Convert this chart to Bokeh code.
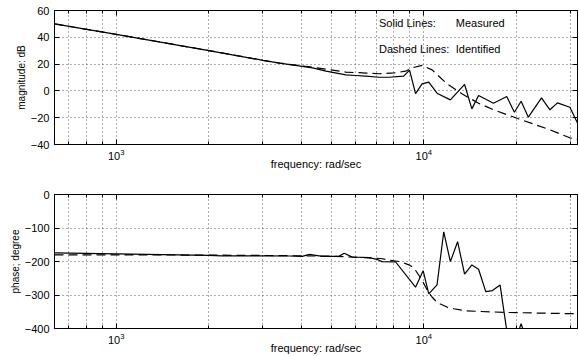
from bokeh.plotting import figure
from bokeh.layouts import column
from bokeh.models import (FixedTicker, LogTickFormatter, Label, Range1d, LinearAxis,
                          LogAxis, CustomJSTickFormatter)
from bokeh.embed import file_html
from bokeh.resources import INLINE

# ---------------- data ----------------
freq_mag_meas = [630, 1000, 2000, 3000, 3400, 4350, 4808, 5580, 6010, 6476, 7150,
                 7706, 8600, 8990, 9399, 9874, 10380, 11040, 12200, 13570, 14330,
                 15070, 16850, 18610, 19700, 20720, 21870, 24140, 25700, 27200,
                 29850, 31600]
mag_meas = [50.0, 42.2, 30.1, 22.8, 20.7, 17.2, 14.7, 12.0, 11.5, 11.0, 10.2,
            10.2, 11.0, 15.5, -2.0, 5.3, 6.5, -1.7, -6.7, 4.8, -13.4,
            -3.4, -9.2, -4.2, -15.9, -7.7, -19.6, -5.2, -14.1, -8.9,
            -12.2, -24.0]

freq_mag_ident = [630, 1000, 2000, 3000, 3400, 4350, 5580, 6500, 7150, 8000,
                  8726, 9166, 9874, 10640, 11900, 13300, 15070, 16850, 20300,
                  25700, 29850, 31600]
mag_ident = [50.0, 42.2, 30.1, 22.8, 20.7, 17.7, 14.0, 13.3, 12.8, 13.4,
             14.7, 17.2, 19.0, 15.7, 5.3, -2.2, -9.2, -14.1, -20.8,
             -29.0, -35.0, -36.3]

freq_ph_meas = [630, 1000, 2000, 2200, 3000, 3656, 4025, 4246, 4680, 5300, 5510,
                5850, 6640, 7040, 7310, 8100, 9399, 9950, 10380, 11040, 11610,
                12200, 12880, 13570, 14330, 15070, 15900, 16720, 17700, 18840,
                19700, 20720, 21870, 26000, 31600]
ph_meas = [-174, -177, -181.5, -183.5, -183.5, -183.6, -184.5, -178.6, -184.6,
           -184.6, -175.6, -186.6, -188.6, -193.5, -200.5, -201.5, -276.8,
           -227.4, -296.7, -270, -111.3, -200.5, -141, -238, -210.4, -223.3,
           -289.8, -286.8, -270, -440, -445, -386, -450, -470, -480]

freq_ph_ident = [630, 1000, 2000, 3000, 5000, 6640, 7243, 7706, 8407, 8943,
                 9283, 9830, 10325, 10637, 11040, 11320, 11900, 12510, 13670,
                 15070, 18390, 23580, 31600]
ph_ident = [-180, -180, -181, -182, -184, -189, -191, -196, -200.5, -210,
            -219, -253, -290, -306, -322, -327, -336, -341, -347,
            -349, -352, -354, -356]

x_major_ticks = [1000, 10000]
x_minor_ticks = [700, 800, 900, 2000, 3000, 4000, 5000, 6000, 7000, 8000, 9000,
                 20000, 30000]
mag_ticks = [-40, -20, 0, 20, 40, 60]
phase_ticks = [-400, -300, -200, -100, 0]
x_limits = (630, 31600)
mag_limits = (-40, 60)
phase_limits = (-400, 0)

FONT = "Liberation Sans"
W = 579
GRID = "#5a5a5a"


def make_fig(height, top, bottom, yticks, ylims, ylabel):
    p = figure(width=W, height=height, x_axis_type="log",
               x_range=Range1d(*x_limits), y_range=Range1d(*ylims),
               output_backend="svg", toolbar_location=None,
               min_border_left=54, min_border_right=2,
               min_border_top=top, min_border_bottom=bottom)
    p.outline_line_color = "black"
    p.outline_line_alpha = 1.0
    p.outline_line_width = 1
    p.background_fill_color = "white"
    p.border_fill_color = "white"

    xa = p.xaxis[0]
    xa.ticker = FixedTicker(ticks=x_major_ticks, minor_ticks=x_minor_ticks)
    xa.formatter = LogTickFormatter()
    xa.major_tick_in = 5
    xa.major_tick_out = 0
    xa.minor_tick_in = 3
    xa.minor_tick_out = 0
    xa.axis_line_color = "black"
    xa.major_tick_line_color = "black"
    xa.minor_tick_line_color = "black"
    xa.major_label_text_font = FONT
    xa.major_label_text_font_size = "11px"
    xa.major_label_text_color = "black"
    xa.major_label_standoff = 4
    xa.axis_label = "frequency: rad/sec"
    xa.axis_label_text_font = FONT
    xa.axis_label_text_font_size = "11px"
    xa.axis_label_text_font_style = "normal"
    xa.axis_label_text_color = "black"
    xa.axis_label_standoff = -5

    ya = p.yaxis[0]
    ya.ticker = FixedTicker(ticks=yticks, minor_ticks=[])
    ya.major_label_overrides = {t: (str(t).replace("-", "\u2212")) for t in yticks}
    ya.major_tick_in = 5
    ya.major_tick_out = 0
    ya.minor_tick_line_color = None
    ya.axis_line_color = "black"
    ya.major_label_text_font = FONT
    ya.major_label_text_font_size = "11px"
    ya.major_label_text_color = "black"
    ya.major_label_standoff = 5
    ya.axis_label = ylabel
    ya.axis_label_text_font = FONT
    ya.axis_label_text_font_size = "10px"
    ya.axis_label_text_font_style = "normal"
    ya.axis_label_text_color = "black"
    ya.axis_label_standoff = 1

    ra = LinearAxis(ticker=FixedTicker(ticks=yticks, minor_ticks=[]),
                    formatter=CustomJSTickFormatter(code="return ''"),
                    major_tick_in=5, major_tick_out=0, minor_tick_line_color=None,
                    major_label_standoff=0, major_label_text_font_size="7px",
                    axis_line_color="black")
    p.add_layout(ra, "right")

    ta = LogAxis(ticker=FixedTicker(ticks=x_major_ticks, minor_ticks=x_minor_ticks),
                 formatter=CustomJSTickFormatter(code="return ''"),
                 major_tick_in=5, major_tick_out=0, minor_tick_in=3, minor_tick_out=0,
                 major_label_standoff=0, major_label_text_font_size="7px",
                 axis_line_color="black")
    p.add_layout(ta, "above")

    p.xgrid.grid_line_color = GRID
    p.xgrid.grid_line_dash = "1 3"
    p.xgrid.grid_line_width = 1
    p.xgrid.minor_grid_line_color = GRID
    p.xgrid.minor_grid_line_dash = "1 3"
    p.xgrid.minor_grid_line_width = 1
    p.ygrid.grid_line_color = GRID
    p.ygrid.grid_line_dash = "1 3"
    p.ygrid.grid_line_width = 1
    return p


p1 = make_fig(180, 10, 36, mag_ticks, mag_limits, "magnitude: dB")
p1.line(freq_mag_meas, mag_meas, line_color="black", line_width=1.2)
p1.line(freq_mag_ident, mag_ident, line_color="black", line_width=1.2,
        line_dash="9 5")
for x, y, t in [(7150, 50.3, "Solid Lines:"), (12700, 50.3, "Measured"),
                (7150, 31.6, "Dashed Lines:"), (12700, 31.6, "Identified")]:
    p1.add_layout(Label(x=x, y=y, text=t, text_font=FONT, text_font_size="11px",
                        text_baseline="middle", text_color="black"))

p2 = make_fig(176, 14, 28, phase_ticks, phase_limits, "phase; degree")
p2.line(freq_ph_meas, ph_meas, line_color="black", line_width=1.2)
p2.line(freq_ph_ident, ph_ident, line_color="black", line_width=1.2,
        line_dash="9 5")

layout = column(p1, p2, spacing=0)
open("out.html", "w").write(file_html(layout, INLINE))
